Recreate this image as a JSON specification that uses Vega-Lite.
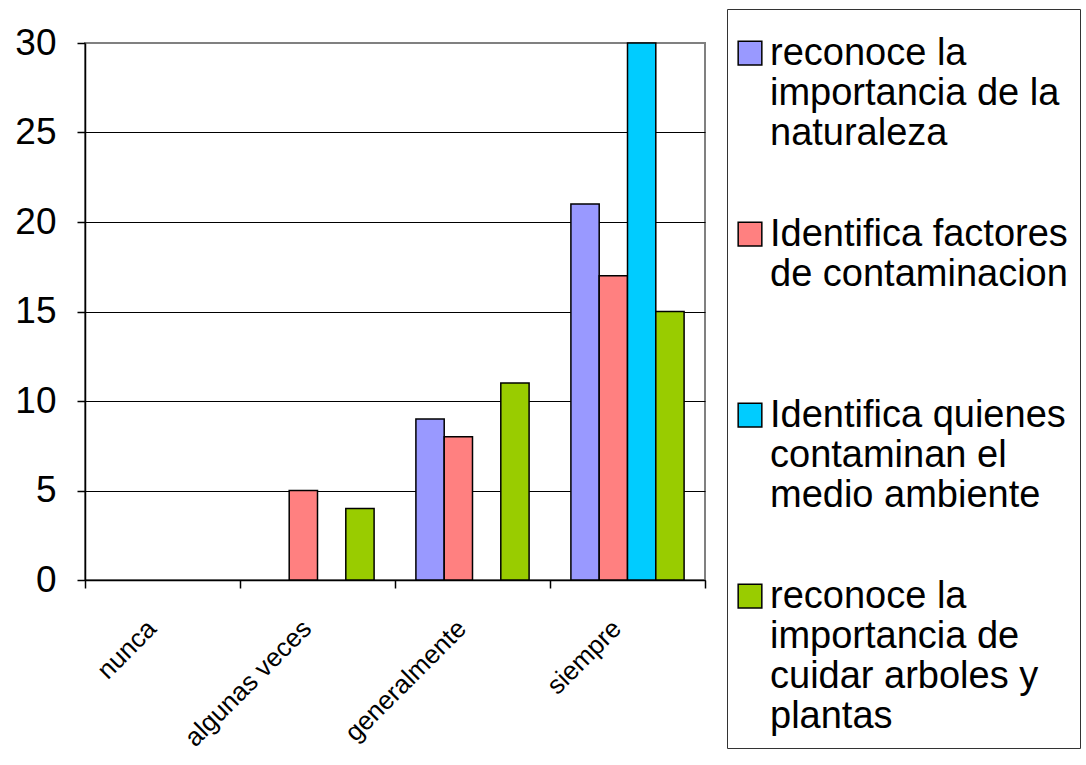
{
  "$schema": "https://vega.github.io/schema/vega-lite/v6.json",
  "width": 620,
  "height": 537,
  "autosize": {"type": "none"},
  "padding": {"left": 85, "top": 43, "right": 381, "bottom": 185},
  "background": "white",
  "data": {
    "values": [
      {"categoria": "nunca", "serie": "reconoce la importancia de la naturaleza", "valor": 0},
      {"categoria": "nunca", "serie": "Identifica factores de contaminacion", "valor": 0},
      {"categoria": "nunca", "serie": "Identifica quienes contaminan el medio ambiente", "valor": 0},
      {"categoria": "nunca", "serie": "reconoce la importancia de cuidar arboles y plantas", "valor": 0},
      {"categoria": "algunas veces", "serie": "reconoce la importancia de la naturaleza", "valor": 0},
      {"categoria": "algunas veces", "serie": "Identifica factores de contaminacion", "valor": 5},
      {"categoria": "algunas veces", "serie": "Identifica quienes contaminan el medio ambiente", "valor": 0},
      {"categoria": "algunas veces", "serie": "reconoce la importancia de cuidar arboles y plantas", "valor": 4},
      {"categoria": "generalmente", "serie": "reconoce la importancia de la naturaleza", "valor": 9},
      {"categoria": "generalmente", "serie": "Identifica factores de contaminacion", "valor": 8},
      {"categoria": "generalmente", "serie": "Identifica quienes contaminan el medio ambiente", "valor": 0},
      {"categoria": "generalmente", "serie": "reconoce la importancia de cuidar arboles y plantas", "valor": 11},
      {"categoria": "siempre", "serie": "reconoce la importancia de la naturaleza", "valor": 21},
      {"categoria": "siempre", "serie": "Identifica factores de contaminacion", "valor": 17},
      {"categoria": "siempre", "serie": "Identifica quienes contaminan el medio ambiente", "valor": 30},
      {"categoria": "siempre", "serie": "reconoce la importancia de cuidar arboles y plantas", "valor": 15}
    ]
  },
  "mark": {"type": "bar", "stroke": "black", "strokeWidth": 1.5},
  "encoding": {
    "x": {
      "field": "categoria",
      "type": "nominal",
      "sort": ["nunca", "algunas veces", "generalmente", "siempre"],
      "scale": {"paddingInner": 0, "paddingOuter": 0},
      "axis": {
        "title": null,
        "labelAngle": -45,
        "labelFontSize": 26,
        "labelColor": "black",
        "labelPadding": 27,
        "labelOffset": -20,
        "tickBand": "extent",
        "tickSize": 8,
        "tickColor": "black",
        "tickWidth": 1.5,
        "domainColor": "black",
        "domainWidth": 1.5,
        "grid": false
      }
    },
    "xOffset": {
      "field": "serie",
      "sort": [
        "reconoce la importancia de la naturaleza",
        "Identifica factores de contaminacion",
        "Identifica quienes contaminan el medio ambiente",
        "reconoce la importancia de cuidar arboles y plantas"
      ],
      "scale": {"paddingInner": 0, "paddingOuter": 0.7385}
    },
    "y": {
      "field": "valor",
      "type": "quantitative",
      "scale": {"domain": [0, 30]},
      "axis": {
        "title": null,
        "values": [0, 5, 10, 15, 20, 25, 30],
        "labelFontSize": 37,
        "labelColor": "black",
        "labelPadding": 21,
        "tickSize": 8,
        "tickColor": "black",
        "tickWidth": 1.5,
        "domainColor": "black",
        "domainWidth": 1.5,
        "grid": true,
        "gridColor": {"condition": {"test": "datum.value === 30", "value": "#808080"}, "value": "black"},
        "gridWidth": 1,
        "gridOpacity": 1
      }
    },
    "strokeOpacity": {"condition": {"test": "datum.valor === 0", "value": 0}, "value": 1},
    "color": {
      "field": "serie",
      "type": "nominal",
      "scale": {
        "domain": [
          "reconoce la importancia de la naturaleza",
          "Identifica factores de contaminacion",
          "Identifica quienes contaminan el medio ambiente",
          "reconoce la importancia de cuidar arboles y plantas"
        ],
        "range": ["#9999FF", "#FF8080", "#00CCFF", "#99CC00"]
      },
      "legend": {
        "title": " ",
        "titleFontSize": 12,
        "titlePadding": 13,
        "orient": "none",
        "legendX": 642,
        "legendY": -34,
        "strokeColor": "#333333",
        "padding": 12,
        "symbolType": "M-1,-2H1V0H-1Z",
        "symbolSize": 560,
        "symbolOffset": -8,
        "symbolStrokeColor": "black",
        "symbolStrokeWidth": 1.5,
        "symbolOpacity": 1,
        "labelFontSize": 38,
        "labelColor": "black",
        "labelLimit": 500,
        "labelOffset": 1,
        "labelBaseline": "alphabetic",
        "labelLineHeight": 43,
        "rowPadding": 23,
        "labelExpr": "datum.label == 'reconoce la importancia de la naturaleza' ? ['reconoce la', 'importancia de la', 'naturaleza', ' '] : datum.label == 'Identifica factores de contaminacion' ? ['Identifica factores', 'de contaminacion', ' ', ' '] : datum.label == 'Identifica quienes contaminan el medio ambiente' ? ['Identifica quienes', 'contaminan el', 'medio ambiente', ' '] : ['reconoce la', 'importancia de', 'cuidar arboles y', 'plantas']"
      }
    }
  },
  "config": {
    "font": "Liberation Sans",
    "view": {"stroke": "#808080", "strokeWidth": 2}
  }
}
